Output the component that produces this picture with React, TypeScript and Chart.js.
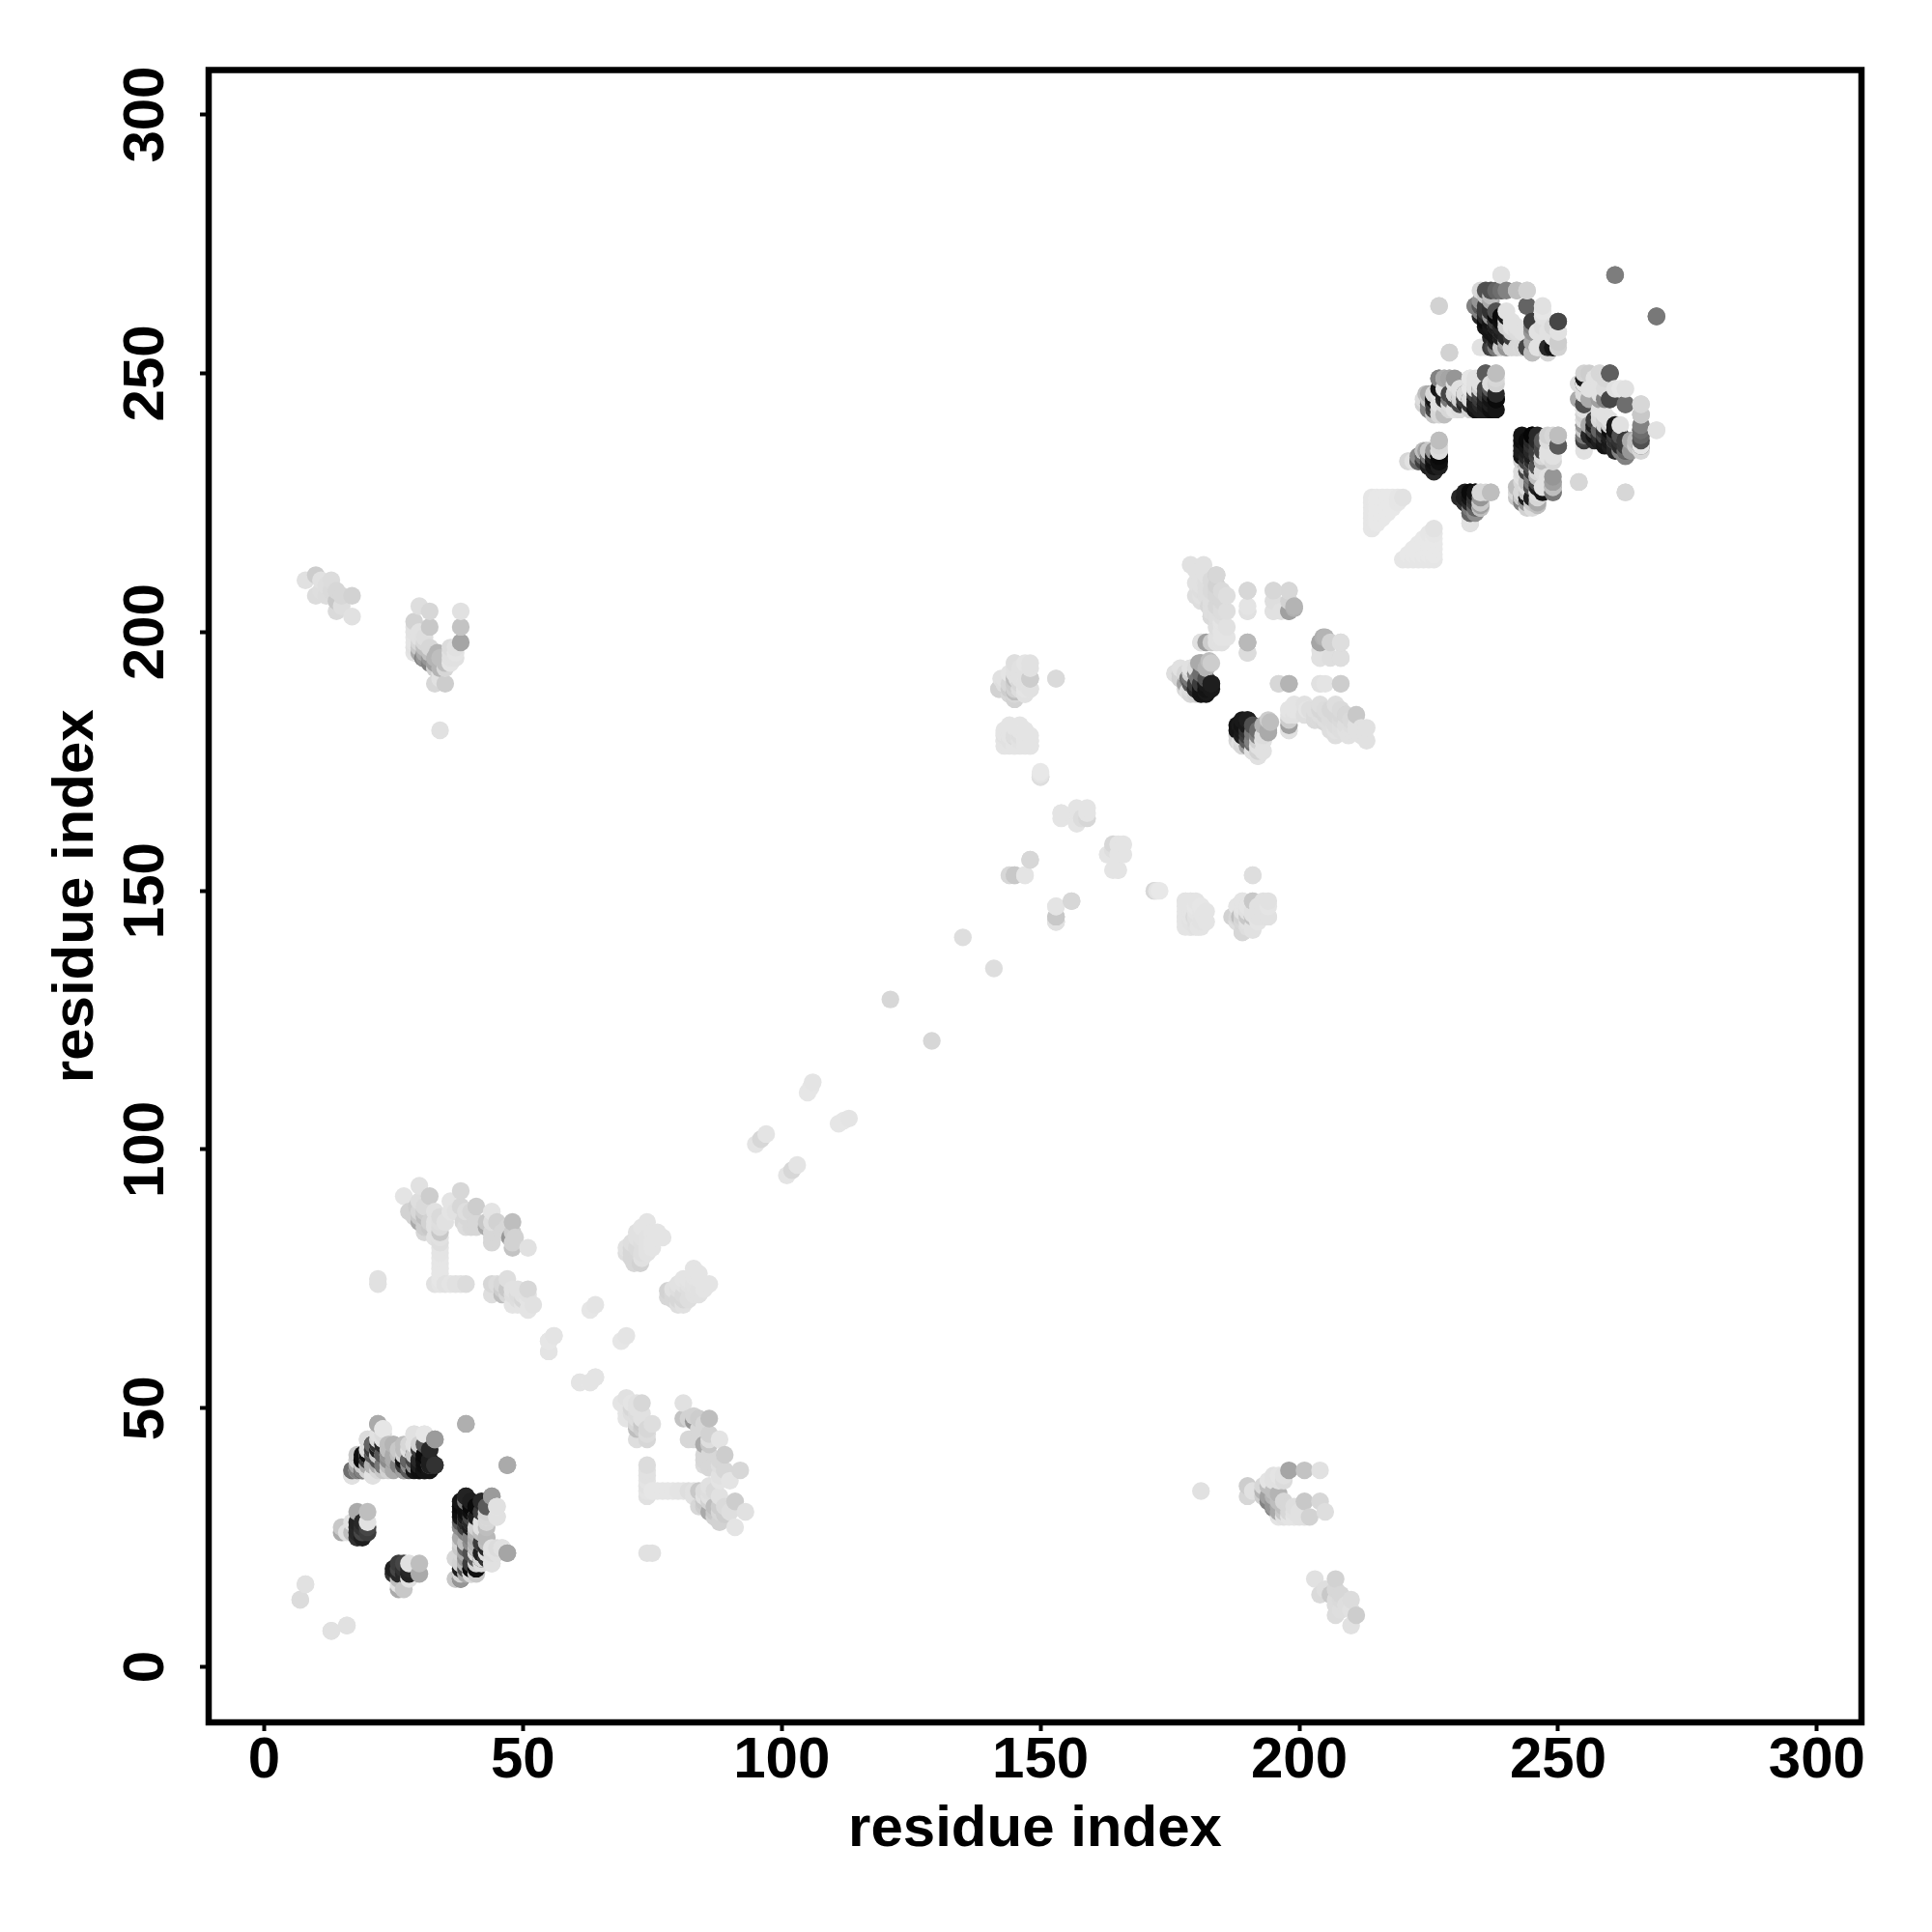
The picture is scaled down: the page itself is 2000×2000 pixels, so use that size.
import React, { useEffect, useRef } from "react";
import { Chart, registerables } from "chart.js";

Chart.register(...registerables);

type Contact = [number, number, number];

const tickValues = [0, 50, 100, 150, 200, 250, 300];
const axisLabel = "residue index";

// [residue i, residue j, intensity]
const nTermStray: Contact[] = [
  [8,16,225],[7,13,225],[13,7,220],[16,8,225],[39,47,170],[47,39,175],
];
const nTermSheet: Contact[] = [
  [22,47,165],[23,46,225],[20,44,225],[23,43,40],[21,43,50],[25,43,185],[27,43,190],[29,45,225],[31,45,225],[33,44,155],
  [31,41,10],[29,41,30],[27,40,30],[33,39,35],[31,38,10],[29,38,20],[27,38,140],[23,39,100],[25,40,130],[18,40,215],
  [19,40,10],[21,39,150],[17,38,150],[17,37,200],[21,37,215],[19,38,30],[22,41,215],[28,43,215],[27,42,225],[32,39,120],
  [39,33,50],[38,31,20],[38,30,15],[41,31,10],[44,33,155],[45,31,230],[43,29,225],[45,29,225],[40,28,100],[38,27,160],
  [40,27,20],[42,28,225],[40,25,170],[43,25,180],[40,22,80],[42,22,30],[44,22,220],[47,22,170],[46,23,230],[44,20,220],
  [37,21,225],[37,17,225],[38,19,130],[38,17,110],[40,19,10],[40,18,210],[39,21,180],
  [30,39,15],[30,40,15],[31,40,10],[32,40,30],[32,38,20],[30,38,15],[29,39,25],[28,39,40],[28,38,90],[24,42,60],
  [24,41,180],[25,41,170],[26,41,180],[26,39,130],[27,39,60],[28,40,40],[20,39,180],[20,38,210],[18,39,170],[18,38,210],
  [19,39,80],[20,41,210],[21,42,215],[21,41,90],[22,43,220],[22,39,170],[22,38,215],[29,43,215],[30,43,210],[30,42,60],
  [31,43,90],[32,42,40],[31,39,15],[26,42,190],[24,40,140],[23,41,190],[23,38,200],[25,38,170],
  [39,32,30],[39,30,30],[40,30,40],[40,31,15],[39,29,140],[39,28,140],[40,29,70],[41,29,200],[41,27,210],[41,26,190],
  [42,27,190],[42,26,200],[41,24,150],[41,23,90],[41,22,200],[42,24,190],[43,24,190],[43,22,50],[43,21,100],[44,23,225],
  [45,23,220],[45,22,225],[38,24,210],[39,24,190],[39,23,120],[39,20,170],[39,19,200],[38,20,210],[41,20,15],[41,19,15],
  [41,18,200],[40,20,60],[42,20,220],[42,21,60],[38,18,130],
];
const nTermTurn: Contact[] = [
  [18,30,170],[20,30,190],[15,26,170],[16,26,225],[20,28,225],[18,27,40],[20,26,60],[18,25,50],[19,25,30],
  [17,28,225],[18,28,35],[19,28,40],[19,27,50],[19,26,70],[20,27,70],[17,26,190],[18,26,40],[15,27,200],
];
const strandBand: Contact[] = [
  [27,91,228],[30,93,225],[28,88,210],[32,91,205],[29.5,89,205],[30,86,170],[31,85,205],[33,88,225],[34,87,218],[34,84,200],
  [36,90,228],[38,92,215],[38,89,215],[39,87,215],[41,89,205],[41,86,215],[38.5,86,215],[44,88,228],[45,86,210],[43,85,170],
  [48,86,190],[44,82,215],[44,84,215],[48.5,83,210],[47.5,83,150],[48,81,195],[51,81,225],[34,82,222],[34,80,228],[34,78,230],
  [34,76,230],[33,74,225],[35,74,225],[37,74,225],[39,74,220],[22,75,225],[22,74,225],
  [44,74,215],[44,72,222],[47,75,222],[46,72,190],[48,73,225],[48,70,228],[51,73,215],[50,71,215],[52,70,225],[51,69,228],[49,72,220],
  [30,90,222],[30,88,215],[30,87,200],[31,89,218],[31,88,205],[31,87,190],[29,87,210],[33,86,225],[33,85,225],[34,86,222],
  [35,86,225],[34,85,220],[32,86,210],[32,85,200],[31,84,215],[33,83,225],[39,88,222],[40,88,215],[40,85,215],[41,85,215],
  [39,85,220],[36,88,228],[37,88,225],[43,86,200],[44,86,222],[46,84,215],[47,85,215],[48,84,205],[44,83,215],[48,82,210],
  [34,83,225],[34,81,228],[34,79,230],[34,77,230],[34,75,230],[34,74,228],[36,74,228],[38,74,225],
  [45,74,220],[46,74,215],[46,73,205],[47,73,200],[47,72,215],[48,72,222],[49,73,225],[49,71,222],[50,72,225],[50,70,228],[51,71,228],[51,72,225],[49,70,228],
];
const midDiagonal: Contact[] = [
  [64,70,228],[63,69,230],[56,64,228],[55,63,228],[55,61,228],[61,55,228],[63,55,230],[64,56,228],
  [74,86,228],[73,84,225],[77,83,228],[75.5,83,228],[70,81,225],[72,83,225],[71,80,215],[71.5,78,215],[73,79,225],[71,81,215],[72.7,78,210],
  [71,82,222],[72,84,225],[73,85,228],[72,81,218],[73,82,222],[74,83,226],[75,84,228],[76,84,228],[73,80,222],[74,81,226],
  [75,82,228],[72,79,215],[71,79,215],[70,80,222],[74,80,226],[75,81,228],[76,83,228],[73,83,225],[74,82,226],
  [95,101,228],[96,102,215],[97,103,228],[105,111,230],[106,113,228],[105.6,112,230],[121,129,215],[135,141,222],
];
const loopCluster: Contact[] = [
  [145,194,225],[147,194,228],[142.4,191,225],[142,189,215],[145,191,195],[148,191,200],[153,191,222],[145,188,215],[147,188,228],[145.5,191,225],
  [143,190,222],[144,190,225],[144,189,215],[144,188,222],[146,190,225],[146,189,225],[146,191,225],[145,190,200],[145,189,210],[147,190,228],[147,189,228],[148,189,228],
  [143,181,228],[145.5,181.5,228],[148,180,228],[143,178,228],[145,178,228],[148,178,228],[147,180,230],[144,180,222],
  [143,180,225],[143,179,228],[144,179,226],[144,181,226],[144,182,228],[145,180,225],[145,179,228],[146,181,228],[146,180,228],[146,179,228],[147,181,230],[147,179,228],[148,179,228],[146,182,228],
  [150,172,215],[150,173,232],[154,165,228],[157,165,228],[159,165,228],[157,163,228],[159,164,215],[158,164,222],
  [166,159,228],[163,157,228],[166,157,228],[164,158,220],[165,154,228],[164,154,228],
  [172,150,222],[172.5,150,228],[148,156,215],[144,153,225],[145,153,200],[147,153,228],
  [156,148,215],[153,147,228],[153,145,200],[153,144,215],
  [179,148,228],[178,148,228],[181.6,145,228],[178,144,228],[180.5,143,228],[179.7,145,218],
  [178,147,228],[178,146,228],[178,145,228],[179,147,228],[179,146,226],[179,144,225],[180,147,228],[180,146,222],[180,145,222],[180,144,228],[181,146,228],[181,144,228],[179,143,228],[181,147,228],
  [191,153,218],[191,148,205],[194,148,225],[194,145,222],[188,147,225],[188.5,145,190],[191,145,190],[191,143,225],[189,142,210],[187,145,210],
  [189,148,225],[190,147,225],[189,146,220],[190,146,215],[190,145,205],[189,144,205],[190,144,215],[190,143,222],[192,147,225],[192,146,225],[192,145,225],[193,148,225],[193,146,225],[193,145,225],[188,144,215],[192,144,228],
];
const hairpinCluster: Contact[] = [
  [176,192,225],[177,191,225],[178,192,225],[179,193,225],[178,189,215],[179,188,215],[180,188,210],[178,190,160],[178.5,191,110],[179,192,210],[179,191,130],[179,190,90],[180,193,220],[180,190,60],[180,189,30],
  [181,194,170],[181,190,50],[181,189,25],[181,188,20],[182,190,25],[182,189,20],[182,188,20],[183,194,205],[183,190,30],
  [188.5,178.5,225],[188.5,182,25],[189,183,25],[189,181,20],[189,180,40],[189,179,220],[190,183,30],[190,182,25],[190,181,60],[191,182,80],[191,180.5,120],[191,179,120],[191,177,210],[192,181,110],[192,180,130],[192,178,215],[192,177,210],[192,176,222],[193,182,180],[193,179,225],[193,177,225],[194.4,182.6,190],[194,181,170],
  [198,185,225],[198,182,160],[198,181,225],
  [179,213,225],[181.5,213,225],[184,211,200],[180,209.5,225],[180,207,222],[182.5,205,215],[185,208,218],[185,206,215],[185,204,215],[185,202,222],[185,200,228],[185,198,228],
  [181,210,225],[181,208,222],[181,206,222],[182,211,225],[182,209,222],[182,207,220],[183,210,218],[183,208,218],[183,206,220],[183,204,218],[183,203,218],[184,209,215],[184,207,215],[184,205,215],[184,203,218],[184,201,222],[184,199,225],[184,198,225],[186,207,222],[186,204,222],[186,201,225],[186,199,228],
  [190,208,205],[190,204,225],[195,208,222],[198,208,222],[195,204,225],[196.5,204,225],[198,204,165],[199,205,180],
  [181,198,225],[183,198,205],[190,198,180],[190,196,215],[180.6,194,170],
  [204.6,199,175],[204,198,160],[206,198,210],[208,198,215],[204,195,225],[208,195,215],[206,195,222],
  [196,190,220],[198,190,185],[204,190,225],[205,190,228],[208,190,215],
  [199,185,228],[200,185,228],[202,185,228],[203,185,222],[205,185,220],[201.5,185,228],[204,185,220],[206.5,185,215],[207,184,215],[208,184,215],[203,184,222],[204,184,222],[209,184,210],[211,184,215],
  [203,183,218],[204,183,222],[205,183,222],[206,183,222],[210,183,218],[207,182,222],[208,182,222],[209,182,222],[210,182,222],[206.5,181,222],[207,181,225],[209,181,225],[211,181,225],[212,181.5,225],[212,180,225],
];
const longRange: Contact[] = [
  [8,210,225],[10,211,205],[11,210,225],[13,210,220],[10,207,220],[14,208,215],[14,206,200],[17,207,210],[14,204,218],[17,203,225],[12,207,220],
  [11,208,222],[12,209,222],[13,208,218],[15,207,215],[15,205,222],[13,207,220],
  [30,205,222],[32,204,215],[38,204,225],[29,202,210],[32,201,200],[38,201,195],[29,200,225],[29,197,225],[38,198,165],[36,197,220],
  [29,201,225],[29,199,228],[29,198,228],[29,196,228],[30,200,225],[30,199,225],[30,198,215],[30,197,200],[31,199,222],[31,198,215],
  [31,197,190],[31,196,170],[31,195,150],[32,197,215],[32,196,190],[32,195,150],[33,195,180],[33,194,160],[34,195,190],[34,193,180],
  [33,193,205],[34,192,225],[34,191,225],[36,196,225],[36,195,225],[37,197,225],[37,196,228],[35,193,215],[36,194,228],
  [30,196,170],[30.7,195,130],[33.5,196,180],[32,194,130],[35,194,190],[37,195,225],[33,190,215],[35,190,205],[34,181,225],
];
const diagonalTriangle: Contact[] = [
  [214,220,230],[214,221,230],[214,222,230],[214,223,230],[214,224,230],[214,225,230],[214,226,230],
  [215,221,232],[215,222,232],[215,223,232],[215,224,232],[215,225,232],[215,226,232],
  [216,222,232],[216,223,232],[216,224,232],[216,225,232],[216,226,232],
  [217,223,232],[217,224,232],[217,225,232],[217,226,232],
  [218,224,232],[218,225,232],[218,226,232],[219,225,230],[219,226,230],[220,226,226],
];
const cTermStray: Contact[] = [
  [239,269,225],[261,269,120],[269,261,125],[227,263,215],[229,254,215],[254,229,210],[263,227,210],
];
const cTermUpper: Contact[] = [
  [236,266,230],[237,266,80],[239,266,110],[242,266,200],[244,266,215],[234,263,130],[235,263,100],[237,263,60],[244,263,110],[247,263,225],
  [236,262,40],[236,261,40],[239,261,20],[250,260,95],[245,260,70],[240,260,210],[236,259,20],[240,259,210],[238,259,70],[239,259,50],
  [245,258,160],[242,258,220],[250,258,215],[238,257,20],[240,257,30],
  [235,255,225],[237,255,60],[239,255,200],[240,255,150],[242,255,210],[244,255,80],[246,255,220],[249,255,25],[250,255,210],[245,254,170],[248,254,220],
  [235,262,130],[235,261,40],[236,260,30],[237,260,25],[237,261,50],[237,262,50],[238,262,80],[238,261,60],[238,260,30],[237,258,30],
  [238,258,50],[239,258,100],[239,260,15],[240,261,25],[241,259,210],[241,258,215],[241,257,60],[239,257,80],[238,256,40],[240,256,170],
  [242,259,225],[243,258,225],[248,255,225],[248,258,225],[249,259,215],[249,257,225],[245,259,130],[237,257,40],[238,255,120],[241,255,220],
  [243,255,225],[245,256,170],[246,258,225],[247,261,225],[247,256,225],[247,259,220],
  [256,250,205],[258,250,225],[260,250,70],[255,249,20],[254,248,215],[262,247,230],[255,246,225],[258,245,150],[260,245,60],[263,244,100],[266,244,210],
  [254,245,190],[255,244,70],[266,242,190],[255,242,215],[255,240,150],[259,241,225],[261,239,10],[269,239,225],[266,239,110],[255,237.5,70],
  [257,239,30],[258,237,20],[260,236,10],[263,237,50],[266,236,80],[261,237,150],[263,235,90],[263,234,130],[255,236,225],[266,235,215],
  [257,240,40],[258,239,30],[258,238,20],[259,238,30],[259,237,25],[260,238,60],[260,237,20],[261,238,10],[262,237,50],[262,236,60],
  [263,236,60],[264,237,170],[262,240,225],[260,241,225],[259,239,40],[255,241,215],[255,243,215],[255,248,40],[266,240,130],[266,238,100],
  [265,236,200],[265,237,190],[264,235,150],
];
const cTermMiddle: Contact[] = [
  [236,250,90],[238,250,190],[227,249,120],[229,249,160],[228,249,190],[233,249,215],[238,248,210],[231,247,220],[235,247,70],
  [224.5,246,190],[229,246,70],[232,246,80],[227,246,220],[238,245,5],[237,245,40],[236,245,50],[234,245,30],[231,245,60],[226,245,30],[224,245,220],[225,244,150],
  [226,244,30],[234,244,40],[236,244,20],[237,244,10],[227,244,200],[229,244,200],
  [228,245,80],[229,245,120],[230,246,190],[230,245,120],[233,245,50],[233,244,70],[235,244,30],[235,245,40],[235,246,60],[236,246,60],
  [236,247,70],[237,247,90],[237,246,40],[238,246,40],[234,246,70],[233,247,190],[234,247,215],[228,244,220],[225,245,200],[226,243,200],
  [227,243,215],[230,243,225],[233,243,210],[235,243,30],[232,245,80],[232,244,200],[231,246,215],
  [243,238,20],[245,238,10],[246,237,40],[244,237,30],[250,238,190],[249,238,215],[250,236,90],[246,235,70],[243,234,20],[248,235,225],[249,233,230],
  [244,232,40],[246,232,220],[245,230,60],[249,230,150],[249,227,130],[249,228,170],[243,231,220],[244,229,220],[246,227,225],[245,226,20],[243,226,70],
  [242,228,190],[244,224,210],[246,225,170],[243,225,130],[244,227,225],
  [244,236,25],[243,237,15],[243,236,30],[245,237,20],[245,236,30],[244,235,40],[245,235,60],[244,234,30],[244,233,50],[245,233,220],
  [245,232,60],[244,231,70],[245,231,210],[246,230,215],[247,235,210],[247,234,225],[247,233,230],[248,237,220],[248,234,225],[243,229,215],
  [243,227,215],[245,228,40],[246,228,30],[247,228,225],[247,227,20],[246,226,215],[244,226,60],[244,225,130],[249,234,225],[249,229,165],
  [248,230,225],[242,226,200],[242,227,215],[247,231,225],
];
const cTermLower: Contact[] = [
  [221,233,225],[222,233,225],[224,235,220],[227,237,190],[227,235,215],[224,235,190],[226,234,50],[227,233,10],[225,233,40],[223,233,100],[226,231,40],
  [225,234,60],[225,235,200],[226,233,20],[226,232,30],[227,234,20],[225,232,50],[224,233,120],[224,234,100],[226,235,150],
  [232,226,20],[234,227,10],[237,227,190],[235,227,220],[233,225,50],[235,224.5,160],[233,223,100],[233,221,215],
  [232,225,30],[232,227,30],[233,226,15],[233,227,15],[234,226,30],[234,225,120],[235,225,200],[233,224,60],[234,223,140],[236,227,215],
];

const contactGroups = [
  nTermStray, nTermSheet, nTermTurn, strandBand, midDiagonal, loopCluster,
  hairpinCluster, longRange, diagonalTriangle, cTermStray, cTermUpper, cTermMiddle, cTermLower,
];

export default function App() {
  const ref = useRef<HTMLCanvasElement | null>(null);
  useEffect(() => {
    if (!ref.current) return;
    const read = contactGroups.flat();
    // a contact map is symmetric: each contact is shown at (i, j) and (j, i)
    const both = [...read, ...read.map(([i, j, v]) => [j, i, v] as Contact)];
    both.sort((a, b) => a[0] - b[0] || a[1] - b[1]);
    const font = { family: "'Liberation Sans', Arial, sans-serif", size: 60, weight: "bold" as const };
    const scaleBase = {
      type: "linear" as const,
      min: -10.7,
      max: 308.6,
      afterBuildTicks: (s: any) => { s.ticks = tickValues.map((value) => ({ value })); },
      border: { display: false },
      grid: { drawOnChartArea: false, drawTicks: true, tickLength: 9, tickWidth: 4, tickColor: "#000" },
    };
    const chart = new Chart(ref.current, {
      type: "scatter",
      data: {
        datasets: [{
          data: both.map(([x, y]) => ({ x, y })),
          backgroundColor: both.map(([, , v]) => `rgb(${v},${v},${v})`),
          borderWidth: 0,
          pointRadius: 9.2,
          pointHoverRadius: 9.2,
        }],
      },
      options: {
        animation: false,
        responsive: false,
        events: [],
        layout: { padding: { left: 0, top: 72.5, right: 73, bottom: 0 } },
        plugins: { legend: { display: false }, tooltip: { enabled: false } },
        scales: {
          x: {
            ...scaleBase,
            afterFit: (s: any) => { s.height = 217; },
            ticks: { color: "#000", font, padding: -5, autoSkip: false, maxRotation: 0, minRotation: 0, callback: (v: any) => String(v) },
            title: { display: true, text: axisLabel, color: "#000", font, padding: { top: 0, bottom: 70 } },
          },
          y: {
            ...scaleBase,
            afterFit: (s: any) => { s.width = 216; },
            ticks: { color: "#000", font, padding: 4, autoSkip: false, minRotation: 90, maxRotation: 90, crossAlign: "center", callback: (v: any) => String(v) },
            title: { display: true, text: axisLabel, color: "#000", font, padding: { top: 43, bottom: 0 } },
          },
        },
      },
      plugins: [{
        id: "frame",
        afterDraw(c: any) {
          const { left, top, right, bottom } = c.chartArea;
          c.ctx.save();
          c.ctx.strokeStyle = "#000";
          c.ctx.lineWidth = 6.5;
          c.ctx.strokeRect(left, top, right - left, bottom - top);
          c.ctx.restore();
        },
      }],
    } as any);
    return () => chart.destroy();
  }, []);
  return <canvas ref={ref} width={2000} height={2000} style={{ position: "absolute", left: 0, top: 0, display: "block" }} />;
}
